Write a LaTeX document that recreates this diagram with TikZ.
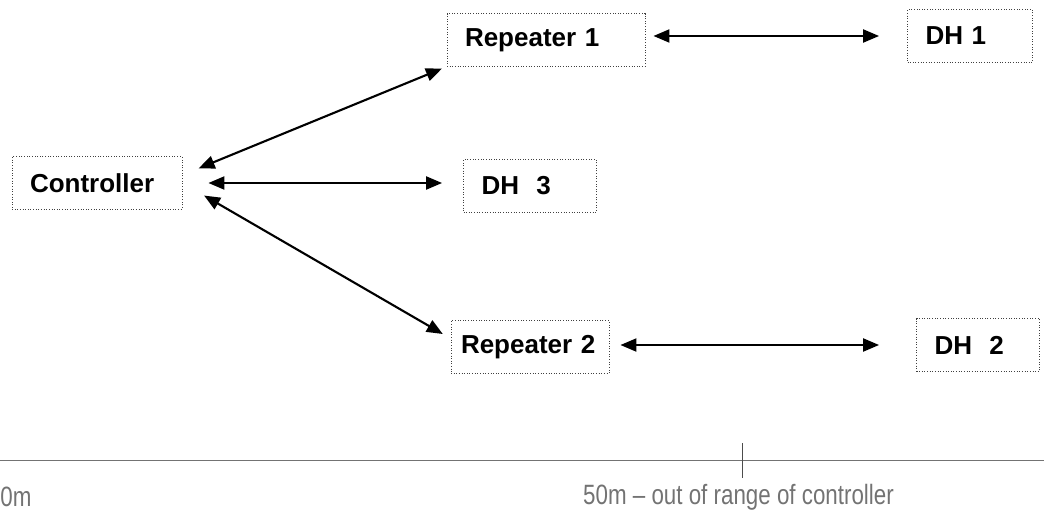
\documentclass[tikz,border=0pt]{standalone}
\usepackage{fontspec}
\setmainfont{Liberation Sans}
\usetikzlibrary{arrows.meta}
\tikzset{
  box/.style={draw=black!75, densely dotted, line width=0.5pt, text width=#1,
    inner xsep=0.36cm, minimum height=1.05cm, align=left,
    font=\fontsize{14.8}{16}\selectfont\bfseries},
  link/.style={<->, line width=1.2pt},
  >={Triangle[length=3.2mm,width=2.6mm]}
}
\begin{document}
\begin{tikzpicture}
    \useasboundingbox (0,0) rectangle (20.88,10.3);

    % 节点
    \node[box=2.68cm] (ctrl) at (1.94,6.64) {Controller};
    \node[box=3.24cm] (rep1) at (10.92,9.5) {Repeater 1};
    \node[box=1.78cm] (dh1) at (19.4,9.58) {DH 1};
    \node[box=1.94cm] (dh3) at (10.6,6.58) {DH\ \ 3};
    \node[box=2.76cm, inner xsep=0.2cm] (rep2) at (10.6,3.36) {Repeater 2};
    \node[box=1.74cm] (dh2) at (19.56,3.4) {DH\ \ 2};

    % 连接
    \draw[link, shorten <=0.35cm, shorten >=0.1cm] ([yshift=0.16cm]ctrl.east) -- (rep1.south west);
    \draw[link, shorten <=0.52cm, shorten >=0.42cm] (ctrl.east) -- (ctrl.east -| dh3.west);
    \draw[link, shorten <=0.5cm, shorten >=0.18cm] (ctrl.east) -- ([yshift=0.17cm]rep2.west);
    \draw[link, shorten <=0.16cm, shorten >=0.56cm] (rep1.east |- dh1.west) -- (dh1.west);
    \draw[link, shorten <=0.22cm, shorten >=0.74cm] (rep2.east |- dh2.west) -- (dh2.west);

    % 距离轴
    \draw[black!55, line width=0.4pt] (0,1.1) -- (20.88,1.1);
    \draw[black!70, line width=0.5pt] (14.84,1.44) -- (14.84,0.74);
    \node[black!55, anchor=west, inner sep=0pt, font=\fontsize{15.9}{17}\selectfont] (zero) at (0,0.36) {\scalebox{0.8}[1]{0m}};
    \node[black!55, inner sep=0pt, font=\fontsize{15.9}{17}\selectfont] (range) at (14.77,0.36) {\scalebox{0.8}[1]{50m -- out of range of controller}};
\end{tikzpicture}
\end{document}
